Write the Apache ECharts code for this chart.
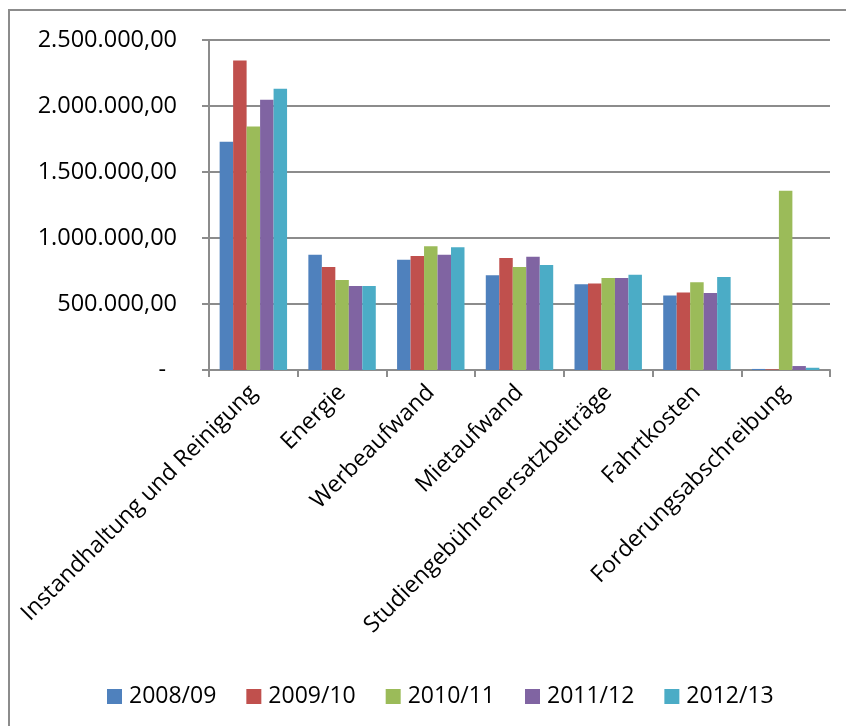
<!DOCTYPE html>
<html>
<head>
<meta charset="utf-8">
<script src="https://cdn.jsdelivr.net/npm/echarts@6/dist/echarts.min.js"></script>
<style>
  html, body { margin: 0; padding: 0; background: #fff; }
  #chart { width: 846px; height: 726px; }
</style>
</head>
<body>
<div id="chart"></div>
<script>
// Cost categories and yearly amounts (EUR)
const categories = [
  'Instandhaltung und Reinigung',
  'Energie',
  'Werbeaufwand',
  'Mietaufwand',
  'Studiengebührenersatzbeiträge',
  'Fahrtkosten',
  'Forderungsabschreibung'
];
const seriesNames = ['2008/09', '2009/10', '2010/11', '2011/12', '2012/13'];
const values2008 = [1729000, 873000, 836000, 717000, 649000, 565000, 8000];
const values2009 = [2345000, 780000, 864000, 848000, 656000, 588000, 5000];
const values2010 = [1845000, 682000, 937000, 780000, 697000, 664000, 1358000];
const values2011 = [2048000, 636000, 873000, 858000, 697000, 583000, 30000];
const values2012 = [2131000, 636000, 929000, 795000, 722000, 704000, 17000];
const yTicks = [0, 500000, 1000000, 1500000, 2000000, 2500000];

const colors = ['#4F81BD', '#C0504D', '#9BBB59', '#8064A2', '#4BACC6'];
const allValues = [values2008, values2009, values2010, values2011, values2012];
const FONT = '"Open Sans", "Noto Sans", sans-serif';

function formatDe(v) {
  if (v === 0) return '{z|-}';
  const s = Math.round(v).toString().replace(/\B(?=(\d{3})+(?!\d))/g, '.');
  return s + ',00';
}

const chart = echarts.init(document.getElementById('chart'), null, { renderer: 'canvas' });
chart.setOption({
  animation: false,
  backgroundColor: '#ffffff',
  color: colors,
  graphic: [{
    type: 'rect',
    shape: { x: 9, y: 10, width: 900, height: 800 },
    style: { fill: 'none', stroke: '#8c8c8c', lineWidth: 2 },
    silent: true
  }],
  grid: { left: 209, top: 40, width: 621, height: 330, containLabel: false },
  legend: {
    data: seriesNames,
    left: 102,
    top: 680,
    itemWidth: 15,
    itemHeight: 15,
    itemGap: 30,
    icon: 'rect',
    textStyle: { fontFamily: FONT, fontSize: 23, color: '#000', padding: [0, 0, 0, 2] }
  },
  xAxis: {
    type: 'category',
    data: categories,
    axisLine: { lineStyle: { color: '#8c8c8c', width: 2 } },
    axisTick: { show: true, length: 7, alignWithLabel: false, lineStyle: { color: '#8c8c8c', width: 2 } },
    axisLabel: {
      interval: 0,
      rotate: 45,
      margin: 19,
      fontFamily: FONT,
      fontSize: 23,
      color: '#000'
    }
  },
  yAxis: {
    type: 'value',
    min: yTicks[0],
    max: yTicks[yTicks.length - 1],
    interval: yTicks[1] - yTicks[0],
    axisLine: { show: true, lineStyle: { color: '#8c8c8c', width: 2 } },
    axisTick: { show: true, length: 7, lineStyle: { color: '#8c8c8c', width: 2 } },
    splitLine: { lineStyle: { color: '#8c8c8c', width: 2 } },
    axisLabel: {
      margin: 32,
      fontFamily: FONT,
      fontSize: 23.5,
      color: '#000',
      formatter: formatDe,
      rich: { z: { fontFamily: FONT, fontSize: 23.5, color: '#000', padding: [0, 11, 0, 0] } }
    }
  },
  series: seriesNames.map((name, i) => ({
    name: name,
    type: 'bar',
    data: allValues[i],
    barGap: '0%',
    barCategoryGap: '24%',
    itemStyle: { color: colors[i] }
  }))
});
</script>
</body>
</html>
